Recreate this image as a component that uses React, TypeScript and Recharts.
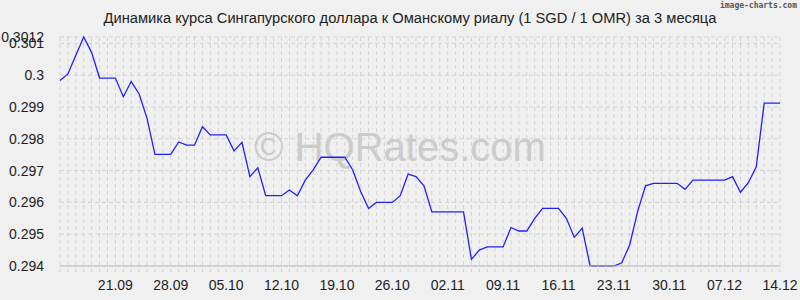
import { LineChart, Line, XAxis, YAxis, CartesianGrid } from 'recharts'

const dates = [
  '14.09', '15.09', '16.09', '17.09', '18.09', '19.09', '20.09', '21.09', '22.09', '23.09',
  '24.09', '25.09', '26.09', '27.09', '28.09', '29.09', '30.09',
  '01.10', '02.10', '03.10', '04.10', '05.10', '06.10', '07.10', '08.10', '09.10', '10.10',
  '11.10', '12.10', '13.10', '14.10', '15.10', '16.10', '17.10', '18.10', '19.10', '20.10',
  '21.10', '22.10', '23.10', '24.10', '25.10', '26.10', '27.10', '28.10', '29.10', '30.10', '31.10',
  '01.11', '02.11', '03.11', '04.11', '05.11', '06.11', '07.11', '08.11', '09.11', '10.11',
  '11.11', '12.11', '13.11', '14.11', '15.11', '16.11', '17.11', '18.11', '19.11', '20.11',
  '21.11', '22.11', '23.11', '24.11', '25.11', '26.11', '27.11', '28.11', '29.11', '30.11',
  '01.12', '02.12', '03.12', '04.12', '05.12', '06.12', '07.12', '08.12', '09.12', '10.12',
  '11.12', '12.12', '13.12', '14.12',
]

const rates = [
  0.29983, 0.30004, 0.30063, 0.3012, 0.30071, 0.29991, 0.29991, 0.29991, 0.29932, 0.2998,
  0.29941, 0.29864, 0.29751, 0.29751, 0.29751, 0.2979, 0.2978, 0.2978, 0.29838, 0.29812,
  0.29812, 0.29812, 0.29762, 0.29789, 0.29681, 0.29709, 0.29621, 0.29621, 0.29621, 0.29639,
  0.29621, 0.2967, 0.29702, 0.29742, 0.29742, 0.29742, 0.29742, 0.29702, 0.29634, 0.29581,
  0.296, 0.296, 0.296, 0.29621, 0.29689, 0.29681, 0.29652, 0.2957, 0.2957, 0.2957,
  0.2957, 0.2957, 0.29421, 0.2945, 0.2946, 0.2946, 0.2946, 0.29521, 0.2951, 0.2951,
  0.2955, 0.29581, 0.29581, 0.29581, 0.2955, 0.2949, 0.29519, 0.294, 0.294, 0.294,
  0.294, 0.2941, 0.29466, 0.29571, 0.29652, 0.2966, 0.2966, 0.2966, 0.2966, 0.29641,
  0.2967, 0.2967, 0.2967, 0.2967, 0.2967, 0.29681, 0.29632, 0.29662, 0.29712, 0.29912,
  0.29912, 0.29912,
]

const xLabels = ['21.09', '28.09', '05.10', '12.10', '19.10', '26.10', '02.11', '09.11', '16.11', '23.11', '30.11', '07.12', '14.12']
const yTicks = [0.294, 0.295, 0.296, 0.297, 0.298, 0.299, 0.3, 0.301, 0.3012]

const data = dates.map((d, i) => ({ date: d, rate: rates[i] }))

const font = '"Liberation Sans", Arial, sans-serif'
const tickStyle = { fill: '#222', fontSize: 14, fontFamily: font }

export default function App() {
  return (
    <div style={{ position: 'absolute', left: 0, top: 0, width: 800, height: 300, background: '#f0f0f0', fontFamily: font, overflow: 'hidden' }}>
      <div style={{ position: 'absolute', left: 10, top: 10, width: 800, textAlign: 'center', fontSize: 14.7, color: '#222' }}>
        Динамика курса Сингапурского доллара к Оманскому риалу (1 SGD / 1 OMR) за 3 месяца
      </div>
      <div style={{ position: 'absolute', right: 3, top: 1, fontSize: 8, fontFamily: '"DejaVu Sans Mono", monospace', fontWeight: 'bold', color: '#555' }}>
        image-charts.com
      </div>
      <div style={{ position: 'absolute', left: 0, top: 124, width: 800, textAlign: 'center', fontSize: 40, color: '#cbcbcb', lineHeight: '46px' }}>
        © HQRates.com
      </div>
      <div style={{ position: 'absolute', left: 0, top: 0 }}>
        <LineChart width={800} height={300} data={data} margin={{ top: 37, right: 20, left: 0, bottom: 0 }}>
          <CartesianGrid stroke="#d2d2d2" strokeDasharray="4 3" />
          <XAxis
            dataKey="date"
            interval={0}
            height={34}
            tick={tickStyle}
            tickMargin={8}
            tickSize={6}
            tickLine={{ stroke: '#cfcfcf', strokeDasharray: '3 2' }}
            axisLine={{ stroke: '#bdbdbd' }}
            tickFormatter={(v: string) => (xLabels.includes(v) ? v : '')}
          />
          <YAxis
            type="number"
            domain={[0.294, 0.3012]}
            ticks={yTicks}
            interval={0}
            width={60}
            tick={tickStyle}
            tickLine={false}
            axisLine={false}
            tickMargin={10}
          />
          <Line type="linear" dataKey="rate" stroke="#2020ff" strokeWidth={1.3} dot={false} isAnimationActive={false} />
        </LineChart>
      </div>
    </div>
  )
}
